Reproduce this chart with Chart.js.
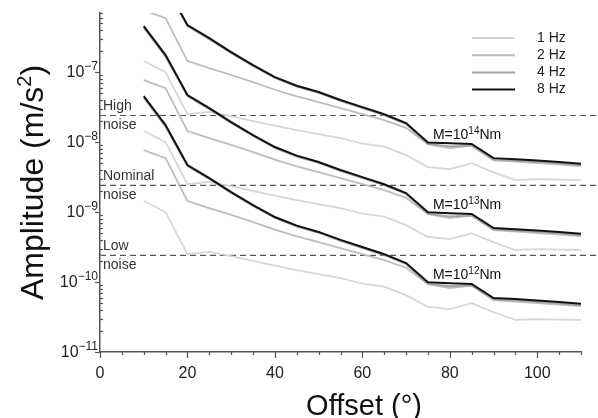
<!DOCTYPE html>
<html lang="en">
<head>
<meta charset="UTF-8">
<title>Amplitude vs offset</title>
<script src="https://cdn.jsdelivr.net/npm/chart.js"></script>
<style>
  html, body { margin: 0; padding: 0; background: #fff; }
  #wrap { width: 598px; height: 418px; }
</style>
</head>
<body>
<div id="wrap"><canvas id="ampChart" width="598" height="418"></canvas></div>
<script>
// epicentral offsets (degrees)
const offsets = [10, 15, 20, 25, 30, 35, 40, 45, 50, 55, 60, 65, 70, 75, 80, 85, 90, 95, 100, 105, 110];

const freqLabels = ['1 Hz', '2 Hz', '4 Hz', '8 Hz'];
const freqColors = ['#d6d6d6', '#bdbdbd', '#a3a3a3', '#111111'];

// M = 10^12 Nm
const m12_1hz = [1.44e-9, 1.0e-9, 2.5e-10, 2.7e-10, 2.35e-10, 2.0e-10, 1.72e-10, 1.48e-10, 1.3e-10, 1.14e-10, 9.5e-11, 8.6e-11, 6.5e-11, 4.4e-11, 4.1e-11, 5.0e-11, 3.7e-11, 2.87e-11, 2.95e-11, 2.9e-11, 2.87e-11];
const m12_2hz = [7.7e-9, 5.9e-9, 1.44e-9, 1.14e-9, 9.1e-10, 7.2e-10, 5.6e-10, 4.5e-10, 3.73e-10, 3.06e-10, 2.51e-10, 2.06e-10, 1.6e-10, 9.3e-11, 8.2e-11, 8.9e-11, 5.5e-11, 5.25e-11, 5.0e-11, 4.77e-11, 4.54e-11];
const m12_4hz = [4.3e-8, 1.66e-8, 4.55e-9, 2.96e-9, 1.87e-9, 1.22e-9, 8.25e-10, 6.2e-10, 5.05e-10, 3.88e-10, 3.06e-10, 2.42e-10, 1.81e-10, 9.4e-11, 8.7e-11, 8.9e-11, 5.65e-11, 5.45e-11, 5.2e-11, 4.95e-11, 4.65e-11];
const m12_8hz = [4.54e-8, 1.75e-8, 4.7e-9, 3.06e-9, 1.93e-9, 1.26e-9, 8.5e-10, 6.4e-10, 5.2e-10, 4.0e-10, 3.16e-10, 2.5e-10, 1.87e-10, 9.9e-11, 9.6e-11, 9.4e-11, 5.9e-11, 5.7e-11, 5.45e-11, 5.2e-11, 4.9e-11];

// M = 10^13 Nm
const m13_1hz = [1.44e-8, 1.0e-8, 2.5e-9, 2.7e-9, 2.35e-9, 2.0e-9, 1.72e-9, 1.48e-9, 1.3e-9, 1.14e-9, 9.5e-10, 8.6e-10, 6.5e-10, 4.4e-10, 4.1e-10, 5.0e-10, 3.7e-10, 2.87e-10, 2.95e-10, 2.9e-10, 2.87e-10];
const m13_2hz = [7.7e-8, 5.9e-8, 1.44e-8, 1.14e-8, 9.1e-9, 7.2e-9, 5.6e-9, 4.5e-9, 3.73e-9, 3.06e-9, 2.51e-9, 2.06e-9, 1.6e-9, 9.3e-10, 8.2e-10, 8.9e-10, 5.5e-10, 5.25e-10, 5.0e-10, 4.77e-10, 4.54e-10];
const m13_4hz = [4.3e-7, 1.66e-7, 4.55e-8, 2.96e-8, 1.87e-8, 1.22e-8, 8.25e-9, 6.2e-9, 5.05e-9, 3.88e-9, 3.06e-9, 2.42e-9, 1.81e-9, 9.4e-10, 8.7e-10, 8.9e-10, 5.65e-10, 5.45e-10, 5.2e-10, 4.95e-10, 4.65e-10];
const m13_8hz = [4.54e-7, 1.75e-7, 4.7e-8, 3.06e-8, 1.93e-8, 1.26e-8, 8.5e-9, 6.4e-9, 5.2e-9, 4.0e-9, 3.16e-9, 2.5e-9, 1.87e-9, 9.9e-10, 9.6e-10, 9.4e-10, 5.9e-10, 5.7e-10, 5.45e-10, 5.2e-10, 4.9e-10];

// M = 10^14 Nm
const m14_1hz = [1.44e-7, 1.0e-7, 2.5e-8, 2.7e-8, 2.35e-8, 2.0e-8, 1.72e-8, 1.48e-8, 1.3e-8, 1.14e-8, 9.5e-9, 8.6e-9, 6.5e-9, 4.4e-9, 4.1e-9, 5.0e-9, 3.7e-9, 2.87e-9, 2.95e-9, 2.9e-9, 2.87e-9];
const m14_2hz = [7.7e-7, 5.9e-7, 1.44e-7, 1.14e-7, 9.1e-8, 7.2e-8, 5.6e-8, 4.5e-8, 3.73e-8, 3.06e-8, 2.51e-8, 2.06e-8, 1.6e-8, 9.3e-9, 8.2e-9, 8.9e-9, 5.5e-9, 5.25e-9, 5.0e-9, 4.77e-9, 4.54e-9];
const m14_4hz = [4.3e-6, 1.66e-6, 4.55e-7, 2.96e-7, 1.87e-7, 1.22e-7, 8.25e-8, 6.2e-8, 5.05e-8, 3.88e-8, 3.06e-8, 2.42e-8, 1.81e-8, 9.4e-9, 8.7e-9, 8.9e-9, 5.65e-9, 5.45e-9, 5.2e-9, 4.95e-9, 4.65e-9];
const m14_8hz = [4.54e-6, 1.75e-6, 4.7e-7, 3.06e-7, 1.93e-7, 1.26e-7, 8.5e-8, 6.4e-8, 5.2e-8, 4.0e-8, 3.16e-8, 2.5e-8, 1.87e-8, 9.9e-9, 9.6e-9, 9.4e-9, 5.9e-9, 5.7e-9, 5.45e-9, 5.2e-9, 4.9e-9];

const momentExps = ['12', '13', '14'];
const seriesByMoment = [
  [m12_1hz, m12_2hz, m12_4hz, m12_8hz],
  [m13_1hz, m13_2hz, m13_4hz, m13_8hz],
  [m14_1hz, m14_2hz, m14_4hz, m14_8hz]
];

// noise levels (m/s^2)
const noiseLevels = [2.4e-8, 2.4e-9, 2.4e-10];
const noiseNames = ['High', 'Nominal', 'Low'];

const xTickLabels = [0, 20, 40, 60, 80, 100];
const yTickExps = [-11, -10, -9, -8, -7];
const labelOffset = 75; // where the moment labels sit

const FONT = '"Liberation Sans", Arial, Helvetica, sans-serif';

const datasets = [];
seriesByMoment.forEach((group, mi) => {
  group.forEach((vals, fi) => {
    datasets.push({
      label: 'M=10^' + momentExps[mi] + ' ' + freqLabels[fi],
      data: offsets.map((x, i) => ({ x: x, y: vals[i] })),
      borderColor: freqColors[fi],
      borderWidth: fi === 3 ? 2 : 1.8,
      pointRadius: 0,
      tension: 0,
      fill: false,
      order: 3 - fi
    });
  });
});

function drawSup(ctx, parts, x, y, align) {
  // parts: [text, size, rise]
  let total = 0;
  parts.forEach(p => { ctx.font = p[1] + 'px ' + FONT; total += ctx.measureText(p[0]).width; });
  let cx = align === 'right' ? x - total : (align === 'center' ? x - total / 2 : x);
  ctx.textAlign = 'left';
  ctx.textBaseline = 'alphabetic';
  parts.forEach(p => {
    ctx.font = p[1] + 'px ' + FONT;
    ctx.fillText(p[0], cx, y - p[2]);
    cx += ctx.measureText(p[0]).width;
  });
}

const decorations = {
  id: 'decorations',
  beforeDatasetsDraw(chart) {
    const ctx = chart.ctx, ys = chart.scales.y, area = chart.chartArea;
    ctx.save();
    ctx.strokeStyle = '#555';
    ctx.lineWidth = 1.2;
    ctx.setLineDash([6, 4]);
    noiseLevels.forEach(v => {
      const py = ys.getPixelForValue(v);
      ctx.beginPath();
      ctx.moveTo(area.left, py);
      ctx.lineTo(chart.width, py);
      ctx.stroke();
    });
    ctx.restore();
  },
  afterDraw(chart) {
    const ctx = chart.ctx, xs = chart.scales.x, ys = chart.scales.y, area = chart.chartArea;
    ctx.save();

    // ticks
    ctx.strokeStyle = '#555';
    ctx.lineWidth = 1.2;
    for (let v = xs.min; v <= xs.max; v += 5) {
      const px = Math.round(xs.getPixelForValue(v)) + 0.5;
      const len = v % 20 === 0 ? 6 : 3;
      ctx.beginPath();
      ctx.moveTo(px, area.bottom);
      ctx.lineTo(px, area.bottom + len);
      ctx.stroke();
    }
    yTickExps.forEach(e => {
      const py = Math.round(ys.getPixelForValue(Math.pow(10, e))) + 0.5;
      ctx.beginPath();
      ctx.moveTo(area.left - 5, py);
      ctx.lineTo(area.left, py);
      ctx.stroke();
      for (let k = 2; k <= 9; k++) {
        const v = k * Math.pow(10, e);
        if (v > ys.max) break;
        const pm = Math.round(ys.getPixelForValue(v)) + 0.5;
        ctx.beginPath();
        ctx.moveTo(area.left, pm);
        ctx.lineTo(area.left + 3, pm);
        ctx.stroke();
      }
    });

    // tick labels
    ctx.fillStyle = '#222';
    yTickExps.forEach(e => {
      const py = ys.getPixelForValue(Math.pow(10, e));
      drawSup(ctx, [['10', 16, 0], ['\u2212' + String(-e), 12, 7]], area.left - 2, py + 5, 'right');
    });
    ctx.font = '16px ' + FONT;
    ctx.textAlign = 'center';
    ctx.textBaseline = 'alphabetic';
    xTickLabels.forEach(v => {
      ctx.fillText(String(v), xs.getPixelForValue(v), area.bottom + 26);
    });

    // axis titles
    ctx.fillStyle = '#111';
    ctx.font = '29px ' + FONT;
    ctx.textAlign = 'center';
    ctx.fillText('Offset (°)', 364, chart.height - 3);
    ctx.save();
    ctx.translate(43, (area.top + area.bottom) / 2);
    ctx.rotate(-Math.PI / 2);
    drawSup(ctx, [['Amplitude (m/s', 32, 0], ['2', 20, 12], [')', 32, 0]], 0, 0, 'center');
    ctx.restore();

    // noise labels
    ctx.fillStyle = '#333';
    ctx.font = '14px ' + FONT;
    ctx.textAlign = 'left';
    noiseLevels.forEach((v, i) => {
      const py = ys.getPixelForValue(v);
      ctx.fillText(noiseNames[i], area.left + 3, py - 5);
      ctx.fillText('noise', area.left + 3, py + 14);
    });

    // moment labels
    ctx.fillStyle = '#111';
    const li = offsets.indexOf(labelOffset);
    seriesByMoment.forEach((group, mi) => {
      const px = xs.getPixelForValue(labelOffset) + 5;
      const py = ys.getPixelForValue(group[3][li]) - 3;
      drawSup(ctx, [['M=10', 14, 0], [momentExps[mi], 10, 5], ['Nm', 14, 0]], px, py, 'left');
    });

    // legend
    freqLabels.forEach((lab, i) => {
      const ly = 38 + i * 17.2;
      ctx.strokeStyle = freqColors[i];
      ctx.lineWidth = 2;
      ctx.beginPath();
      ctx.moveTo(472, ly);
      ctx.lineTo(515, ly);
      ctx.stroke();
      ctx.fillStyle = '#222';
      ctx.font = '14px ' + FONT;
      ctx.textAlign = 'left';
      ctx.textBaseline = 'middle';
      ctx.fillText(lab, 537, ly);
    });

    ctx.restore();
  }
};

new Chart(document.getElementById('ampChart'), {
  type: 'line',
  data: { datasets: datasets },
  options: {
    responsive: false,
    animation: false,
    devicePixelRatio: 1,
    layout: { padding: { left: 100, right: 17, top: 13, bottom: 66 } },
    plugins: { legend: { display: false }, tooltip: { enabled: false } },
    scales: {
      x: {
        type: 'linear',
        min: 0,
        max: 110,
        grid: { display: false },
        border: { display: true, color: '#555', width: 1.5 },
        ticks: { display: false },
        afterFit: s => { s.height = 0; }
      },
      y: {
        type: 'logarithmic',
        min: 1e-11,
        max: 7e-7,
        grid: { display: false },
        border: { display: true, color: '#555', width: 1.5 },
        ticks: { display: false },
        afterFit: s => { s.width = 0; }
      }
    }
  },
  plugins: [decorations]
});
</script>
</body>
</html>
